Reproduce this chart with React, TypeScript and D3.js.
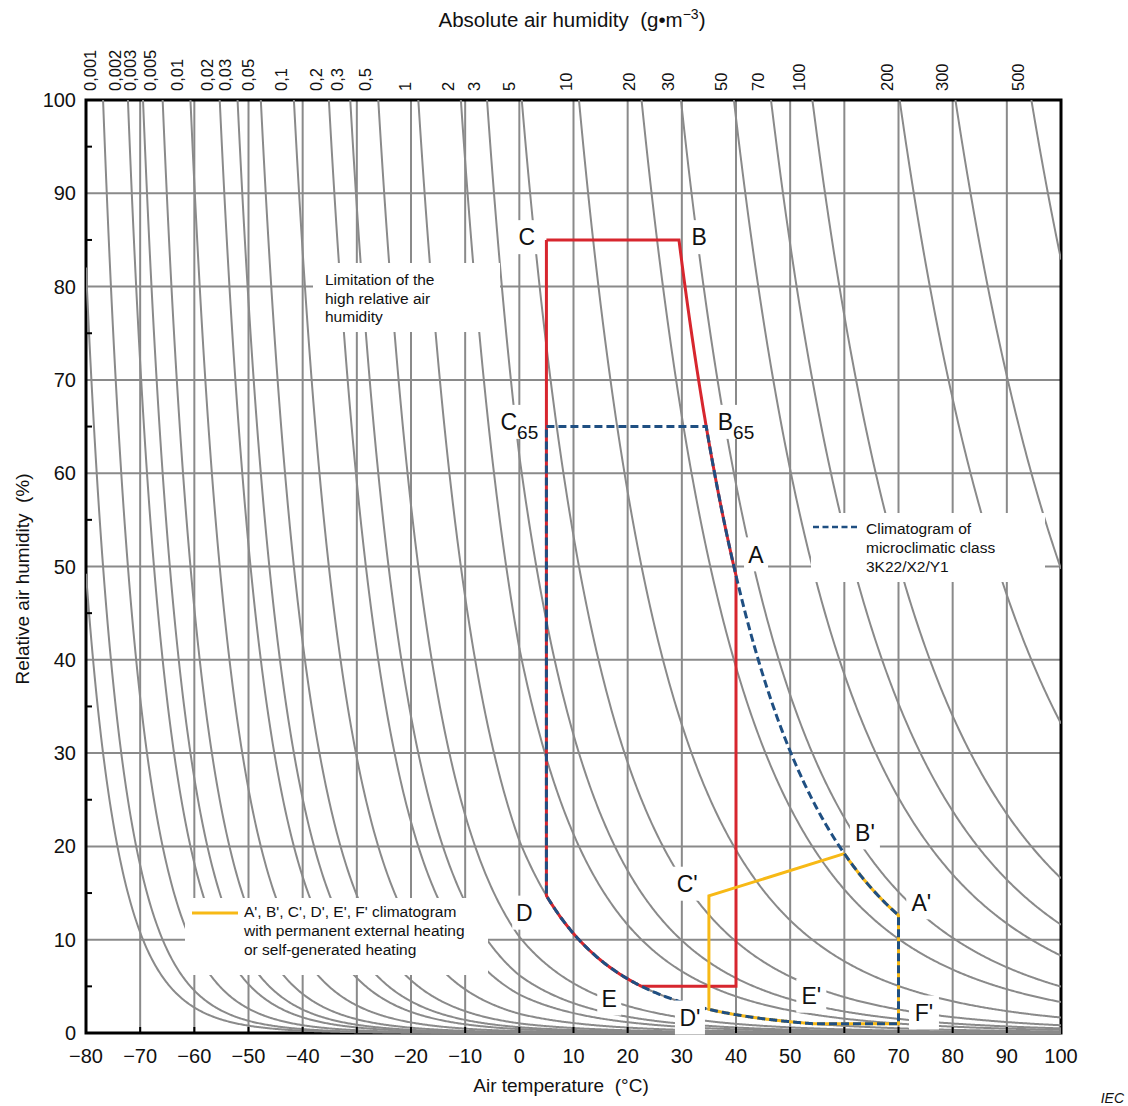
import React from 'react';
import * as d3 from 'd3';

const TEMP_TICKS = [-80, -70, -60, -50, -40, -30, -20, -10, 0, 10, 20, 30, 40, 50, 60, 70, 80, 90, 100];
const RH_TICKS = [0, 10, 20, 30, 40, 50, 60, 70, 80, 90, 100];
const RH_MINOR_TICKS = [5, 15, 25, 35, 45, 55, 65, 75, 85, 95];

// absolute air humidity isolines (g/m³)
const AH_VALUES = [0.001, 0.002, 0.003, 0.005, 0.01, 0.02, 0.03, 0.05, 0.1, 0.2, 0.3, 0.5, 1, 2, 3, 5, 10, 20, 30, 50, 70, 100, 200, 300, 500];
const AH_LABELS = ['0,001', '0,002', '0,003', '0,005', '0,01', '0,02', '0,03', '0,05', '0,1', '0,2', '0,3', '0,5', '1', '2', '3', '5', '10', '20', '30', '50', '70', '100', '200', '300', '500'];
const AH_UNLABELLED = [0.0005, 0.0003];

// climatogram corners: t = °C, rh = %, ah = g/m³ (two of three given)
// an edge follows the isoline when both ends carry the same ah
type Corner = { t?: number; rh?: number; ah?: number };
const LIMIT_CORNERS: Corner[] = [
  { t: 5, rh: 85 }, // C
  { ah: 25, rh: 85 }, // B
  { ah: 25, t: 40 }, // A
  { t: 40, rh: 5 },
  { ah: 1, rh: 5 },
  { ah: 1, t: 5 }, // D
];
const CLASS_3K22_CORNERS: Corner[] = [
  { t: 5, rh: 65 }, // C65
  { ah: 25, rh: 65 }, // B65
  { ah: 25, t: 70 }, // A'
  { t: 70, rh: 1 }, // F'
  { ah: 1, rh: 1 }, // E'
  { ah: 1, t: 5 }, // D
];
const HEATED_CORNERS: Corner[] = [
  { ah: 25, t: 60 }, // B'
  { ah: 5.8, t: 35 }, // C'
  { ah: 1, t: 35 }, // D'
  { ah: 1, rh: 1 }, // E'
  { t: 70, rh: 1 }, // F'
  { ah: 25, t: 70 }, // A'
];

// point labels: name, subscript, temperature, rel. humidity (label centre)
const POINT_LABELS: [string, string, number, number][] = [
  ['C', '', 1.4, 85.3],
  ['B', '', 33.2, 85.3],
  ['C', '65', 0.0, 65.5],
  ['B', '65', 40.0, 65.5],
  ['A', '', 43.7, 51.3],
  ["B'", '', 63.8, 21.5],
  ["C'", '', 31.0, 16.0],
  ["A'", '', 74.2, 14.0],
  ["E'", '', 53.9, 4.0],
  ["F'", '', 74.7, 2.2],
  ["D'", '', 31.5, 1.66],
  ['D', '', 0.9, 12.9],
  ['E', '', 16.6, 3.7],
];

const GRAY = '#8a8a8a';
const RED = '#d7262e';
const YELLOW = '#f7b916';
const BLUE = '#1f4f82';
const FONT = "'Liberation Sans', Arial, Helvetica, sans-serif";

// saturation vapour density (g/m³), Magnus over ice below 0 °C
function satDensity(t: number) {
  const e = t < 0
    ? 6.112 * Math.exp((22.46 * t) / (272.62 + t))
    : 6.112 * Math.exp((17.62 * t) / (243.12 + t));
  return (216.7 * e) / (t + 273.15);
}

function tSat(ah: number) {
  let lo = -120, hi = 130;
  for (let i = 0; i < 60; i++) {
    const mid = (lo + hi) / 2;
    if (satDensity(mid) < ah) lo = mid; else hi = mid;
  }
  return (lo + hi) / 2;
}

function resolve(c: Corner): [number, number] {
  if (c.t != null && c.rh != null) return [c.t, c.rh];
  if (c.t != null && c.ah != null) return [c.t, (c.ah / satDensity(c.t)) * 100];
  const t = tSat(c.ah! / (c.rh! / 100));
  return [t, c.rh!];
}

function isoPoints(ah: number, t0: number, t1: number): [number, number][] {
  const n = Math.max(2, Math.ceil(Math.abs(t1 - t0) / 0.2));
  const pts: [number, number][] = [];
  for (let i = 0; i <= n; i++) {
    const t = t0 + ((t1 - t0) * i) / n;
    pts.push([t, (ah / satDensity(t)) * 100]);
  }
  return pts;
}

function outline(corners: Corner[]): [number, number][] {
  const pts: [number, number][] = [];
  corners.forEach((c, i) => {
    const next = corners[(i + 1) % corners.length];
    const a = resolve(c);
    const b = resolve(next);
    if (c.ah != null && c.ah === next.ah) {
      pts.push(...isoPoints(c.ah, a[0], b[0]));
    } else {
      pts.push(a, b);
    }
  });
  return pts;
}

export default function App() {
  const x = d3.scaleLinear().domain([-80, 100]).range([86, 1061]);
  const y = d3.scaleLinear().domain([0, 100]).range([1033, 100]);
  const line = d3.line<[number, number]>().x(d => x(d[0])).y(d => y(d[1]));

  const curves = [...AH_UNLABELLED, ...AH_VALUES].map(ah => {
    const t0 = Math.max(-80, tSat(ah));
    return line(isoPoints(ah, t0, 100));
  });

  const left = x(-80), right = x(100), top = y(100), bottom = y(0);

  return (
    <svg width={1128} height={1106} style={{ position: 'absolute', left: 0, top: 0, background: '#fff' }} fontFamily={FONT}>
      <defs>
        <clipPath id="plot-clip">
          <rect x={left} y={top} width={right - left} height={bottom - top + 1.5} />
        </clipPath>
      </defs>
      <rect width={1128} height={1106} fill="#fff" />

      {/* grid */}
      {TEMP_TICKS.slice(1, -1).map(t => (
        <line key={'vg' + t} x1={x(t)} x2={x(t)} y1={top} y2={bottom} stroke={GRAY} strokeWidth={2} />
      ))}
      {RH_TICKS.slice(1, -1).map(r => (
        <line key={'hg' + r} x1={left} x2={right} y1={y(r)} y2={y(r)} stroke={GRAY} strokeWidth={2} />
      ))}

      {/* frame */}
      <rect x={left} y={top} width={right - left} height={bottom - top} fill="none" stroke="#000" strokeWidth={3} />

      {/* absolute humidity isolines */}
      <g clipPath="url(#plot-clip)">
        {curves.map((d, i) => (
          <path key={'c' + i} d={d || ''} fill="none" stroke={GRAY} strokeWidth={2} />
        ))}
      </g>

      {/* ticks */}
      {RH_MINOR_TICKS.map(r => (
        <line key={'mt' + r} x1={left} x2={left + 6} y1={y(r)} y2={y(r)} stroke="#000" strokeWidth={2} />
      ))}
      {TEMP_TICKS.slice(1, -1).map(t => (
        <line key={'bt' + t} x1={x(t)} x2={x(t)} y1={bottom} y2={bottom - 6} stroke="#000" strokeWidth={2} />
      ))}

      {/* annotation boxes */}
      <rect x={313} y={263} width={187} height={69} fill="#fff" />
      <text fontSize={15.5} fill="#111">
        <tspan x={325} y={285}>Limitation of the</tspan>
        <tspan x={325} y={303.5}>high relative air</tspan>
        <tspan x={325} y={322}>humidity</tspan>
      </text>

      <rect x={811} y={513} width={234} height={69} fill="#fff" />
      <line x1={813} x2={860} y1={527} y2={527} stroke={BLUE} strokeWidth={2.5} strokeDasharray="6 3.5" />
      <text fontSize={15.5} fill="#111">
        <tspan x={866} y={534}>Climatogram of</tspan>
        <tspan x={866} y={553}>microclimatic class</tspan>
        <tspan x={866} y={572}>3K22/X2/Y1</tspan>
      </text>

      <rect x={185} y={898} width={303} height={77} fill="#fff" />
      <line x1={192} x2={238} y1={913} y2={913} stroke={YELLOW} strokeWidth={3} />
      <text fontSize={15.5} fill="#111">
        <tspan x={244} y={917}>A', B', C', D', E', F' climatogram</tspan>
        <tspan x={244} y={936}>with permanent external heating</tspan>
        <tspan x={244} y={955}>or self-generated heating</tspan>
      </text>

      {/* climatograms */}
      <path d={line(outline(LIMIT_CORNERS)) || ''} fill="none" stroke={RED} strokeWidth={3} />
      <path d={line(outline(HEATED_CORNERS)) || ''} fill="none" stroke={YELLOW} strokeWidth={3} />
      <path d={line(outline(CLASS_3K22_CORNERS)) || ''} fill="none" stroke={BLUE} strokeWidth={3} strokeDasharray="8 4" />

      {/* point labels */}
      {POINT_LABELS.map(([name, sub, t, r], i) => {
        const w = name.replace("'", '').length * 16 + (name.includes("'") ? 6 : 0) + sub.length * 12 + 8;
        const cx = x(t), cy = y(r);
        return (
          <g key={'pl' + i}>
            <rect x={cx - w / 2} y={cy - 17} width={w} height={34} fill="#fff" />
            <text x={cx} y={cy + 8.3} textAnchor="middle" fontSize={23} fill="#111">
              {name}
              {sub && <tspan fontSize={19} dy={9}>{sub}</tspan>}
            </text>
          </g>
        );
      })}

      {/* axis tick labels */}
      {TEMP_TICKS.map(t => (
        <text key={'xl' + t} x={x(t)} y={1063} textAnchor="middle" fontSize={20} fill="#111">
          {t < 0 ? '\u2212' + Math.abs(t) : t}
        </text>
      ))}
      {RH_TICKS.map(r => (
        <text key={'yl' + r} x={76} y={y(r) + 7} textAnchor="end" fontSize={20} fill="#111">{r}</text>
      ))}
      {AH_VALUES.map((ah, i) => {
        const px = x(tSat(ah)) - 7;
        return (
          <text key={'tl' + i} transform={`translate(${px},91) rotate(-90)`} fontSize={16.5} fill="#111">
            {AH_LABELS[i]}
          </text>
        );
      })}

      {/* titles */}
      <text x={572} y={27} textAnchor="middle" fontSize={20.5} fill="#111">
        Absolute air humidity{'\u00a0\u00a0'}(g•m<tspan fontSize={14} dy={-8}>−3</tspan><tspan dy={8}>)</tspan>
      </text>
      <text transform="translate(29,579) rotate(-90)" textAnchor="middle" fontSize={19} fill="#111">
        Relative air humidity{'\u00a0\u00a0'}(%)
      </text>
      <text x={561} y={1092} textAnchor="middle" fontSize={19} fill="#111">
        Air temperature{'\u00a0\u00a0'}(°C)
      </text>
      <text x={1124} y={1103} textAnchor="end" fontSize={14} fontStyle="italic" fill="#111">IEC</text>
    </svg>
  );
}
